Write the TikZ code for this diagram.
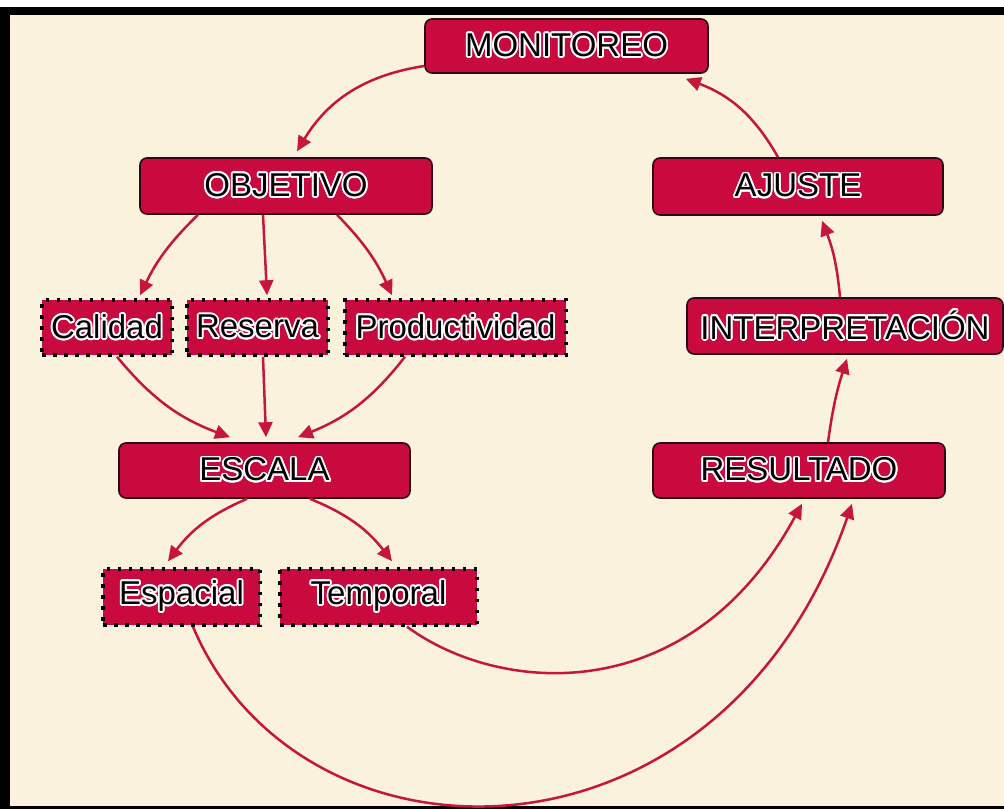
\documentclass[tikz,border=0pt]{standalone}
\usepackage{fontspec}
\setmainfont{Liberation Sans}
\usepackage[copies]{contour}
\contourlength{1.8pt}
\usetikzlibrary{arrows.meta,calc}
\definecolor{cream}{RGB}{250,242,220}
\definecolor{boxred}{RGB}{200,10,62}
\definecolor{arrred}{RGB}{198,22,62}
\definecolor{edgedark}{RGB}{45,10,18}
\newcommand{\lbl}[1]{\contour{white}{#1}}
\begin{document}
\begin{tikzpicture}[x=1pt,y=-1pt,
  box/.style={draw=edgedark, line width=1.6pt, fill=boxred, rounded corners=7pt,
    inner sep=0pt, text=black, font=\fontsize{33}{38}\selectfont},
  dbox/.style={draw=black, line width=3.5pt, dash pattern=on 3.5pt off 7.5pt,
    fill=boxred, inner sep=0pt, text=black, font=\fontsize{33}{38}\selectfont},
  arr/.style={draw=arrred, line width=2.5pt, -{Triangle[length=15pt,width=14pt]}}]
\useasboundingbox (0,0) rectangle (1004,809);
% frame
\fill[white] (0,0) rectangle (1004,809);
\fill[black] (0,7) rectangle (1004,809);
\fill[cream] (10,15) rectangle (1004,806);
% nodes
\node[box, minimum width=283pt, minimum height=54pt] (mon) at (566.5,46) {\lbl{MONITOREO}};
\node[box, minimum width=292pt, minimum height=56pt] (obj) at (286,186) {\lbl{OBJETIVO}};
\node[box, minimum width=290pt, minimum height=57pt] (aju) at (798,186.5) {\lbl{AJUSTE}};
\node[dbox, minimum width=130pt, minimum height=55pt] (cal) at (107,327.5) {\lbl{Calidad}};
\node[dbox, minimum width=141pt, minimum height=55pt] (res) at (257.5,327.5) {\lbl{Reserva}};
\node[dbox, minimum width=221pt, minimum height=55pt] (pro) at (455.5,327.5) {\lbl{Productividad}};
\node[box, minimum width=316pt, minimum height=56pt] (int) at (845,326) {\lbl{INTERPRETACIÓN}};
\node[box, minimum width=291pt, minimum height=55pt] (esc) at (264.5,470.5) {\lbl{ESCALA}};
\node[box, minimum width=292pt, minimum height=55pt] (resu) at (799,470.5) {\lbl{RESULTADO}};
\node[dbox, minimum width=157pt, minimum height=56pt] (esp) at (181.5,597) {\lbl{Espacial}};
\node[dbox, minimum width=197pt, minimum height=56pt] (tem) at (378.5,597) {\lbl{Temporal}};
% connectors
\draw[arr] ([yshift=-20pt]mon.west) to[bend right=25] ([xshift=11pt,yshift=6pt]obj.north);
\draw[arr] ([xshift=-20pt]aju.north) to[bend right=20] ([xshift=-23pt,yshift=-5pt]mon.south east);
\draw[arr] ([xshift=-5pt]int.north) to[bend right=8] ([xshift=24pt,yshift=-5pt]aju.south);
\draw[arr] ([xshift=29pt]resu.north) to[bend left=5] ([xshift=2pt,yshift=-4pt]int.south);
\draw[arr] ([xshift=-88pt]obj.south) to[bend right=10] ([xshift=33pt,yshift=3pt]cal.north);
\draw[arr] ([xshift=-23pt]obj.south) -- ([xshift=9.5pt,yshift=3pt]res.north);
\draw[arr] ([xshift=51pt]obj.south) to[bend left=10] ([xshift=-63.5pt,yshift=3pt]pro.north);
\draw[arr] ([xshift=10pt]cal.south) to[bend right=15] ([xshift=-34.5pt,yshift=5pt]esc.north);
\draw[arr] ([xshift=5.5pt]res.south) -- ([xshift=1.5pt,yshift=5pt]esc.north);
\draw[arr] ([xshift=-50.5pt]pro.south) to[bend left=15] ([xshift=33.5pt,yshift=5pt]esc.north);
\draw[arr] ([xshift=-17.5pt]esc.south) to[bend right=15] ([xshift=-13.5pt,yshift=6pt]esp.north);
\draw[arr] ([xshift=45.5pt]esc.south) to[bend left=15] ([xshift=13.5pt,yshift=6pt]tem.north);
\draw[arr] ([xshift=28.5pt]tem.south) .. controls (500,695) and (690,710) .. ([xshift=3pt,yshift=-5pt]resu.south);
\draw[arr] ([xshift=11.5pt]esp.south) .. controls (300,880) and (720,885) .. ([xshift=53pt,yshift=-5pt]resu.south);
\end{tikzpicture}
\end{document}
